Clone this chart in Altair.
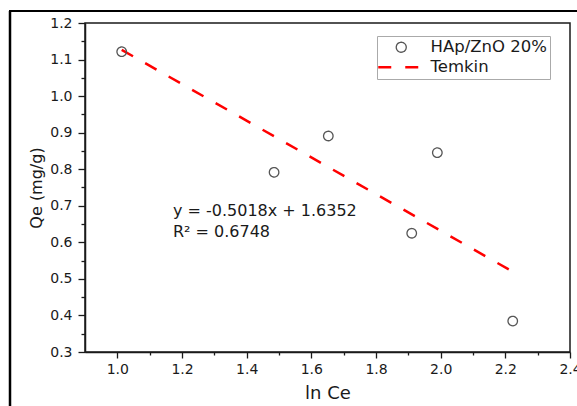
import altair as alt
import pandas as pd

# ---- data ----
ln_ce = [1.0135, 1.4848, 1.6525, 1.9105, 1.9897, 2.2229]
qe = [1.1215, 0.7916, 0.8909, 0.6248, 0.8453, 0.3847]
fit_x = [1.0135, 2.223]
fit_y = [1.1266, 0.5197]
series_names = ["HAp/ZnO 20%", "Temkin"]
x_major = [1.0, 1.2, 1.4, 1.6, 1.8, 2.0, 2.2, 2.4]
x_minor = [1.1, 1.3, 1.5, 1.7, 1.9, 2.1, 2.3]
y_major = [0.3, 0.4, 0.5, 0.6, 0.7, 0.8, 0.9, 1.0, 1.1, 1.2]
y_minor = [0.35, 0.45, 0.55, 0.65, 0.75, 0.85, 0.95, 1.05, 1.15]
eq_lines = ["y = -0.5018x + 1.6352", "R\u00b2 = 0.6748"]
eq_x = [1.172, 1.172]
eq_y = [0.673, 0.6155]

FONT = "DejaVu Sans"
INK = "#1a1a1a"

pts = pd.DataFrame({"lnCe": ln_ce, "Qe": qe, "series": series_names[0]})
fit = pd.DataFrame({"lnCe": fit_x, "Qe": fit_y, "series": series_names[1]})
eq = pd.DataFrame({"lnCe": eq_x, "Qe": eq_y, "label": eq_lines})
one = pd.DataFrame({"a": [0]})

xs = alt.Scale(domain=[0.9, 2.4], nice=False, zero=False)
ys = alt.Scale(domain=[0.3, 1.2], nice=False, zero=False)

color_enc = alt.Color("series:N", scale=alt.Scale(domain=series_names, range=["#555555", "#ff0000"]),
                      legend=alt.Legend(title=None, orient="none", legendX=292, legendY=13,
                                        strokeColor="#aaaaaa", padding=3, labelFont=FONT,
                                        labelFontSize=16.5, labelColor=INK, symbolSize=100,
                                        symbolOffset=13, labelOffset=21, rowPadding=3,
                                        fillColor="white"))
shape_enc = alt.Shape("series:N", scale=alt.Scale(domain=series_names, range=["circle", "M-4.6,0H4.6"]))
dash_enc = alt.StrokeDash("series:N", scale=alt.Scale(domain=series_names, range=[[1, 0], [13, 14]]))
sw_enc = alt.StrokeWidth("series:N", scale=alt.Scale(type="ordinal", domain=series_names, range=[1.3, 2.5]))

major_x_axis = alt.Axis(orient="bottom", values=x_major, format=".1f", tickSize=6, labelPadding=4,
                        grid=False, title="ln Ce", titleFontSize=18, titleFont=FONT,
                        titleFontWeight="normal", titleColor=INK, titlePadding=8, labelFont=FONT,
                        labelFontSize=14, labelColor=INK, domainColor=INK, tickColor=INK,
                        domainWidth=1.5, tickWidth=1.3, labelFlush=False, labelOverlap=False)
major_y_axis = alt.Axis(orient="left", values=y_major, format=".1f", tickSize=7, labelPadding=6,
                        grid=False, title="Qe (mg/g)", titleFontSize=16, titleFont=FONT,
                        titleFontWeight="normal", titleColor=INK, titlePadding=5, labelFont=FONT,
                        labelFontSize=14, labelColor=INK, domainColor=INK, tickColor=INK,
                        domainWidth=1.5, tickWidth=1.3, labelFlush=False, labelOverlap=False)
minor_x_axis = alt.Axis(orient="bottom", values=x_minor, labels=False, domain=False, grid=False,
                        title=None, tickSize=3, tickColor=INK, tickWidth=1.3)
minor_y_axis = alt.Axis(orient="left", values=y_minor, labels=False, domain=False, grid=False,
                        title=None, tickSize=4, tickColor=INK, tickWidth=1.3)

points = alt.Chart(pts).mark_point(filled=False, size=90, opacity=1).encode(
    x=alt.X("lnCe:Q", scale=xs, axis=major_x_axis),
    y=alt.Y("Qe:Q", scale=ys, axis=major_y_axis),
    color=color_enc, shape=shape_enc, strokeDash=dash_enc, strokeWidth=sw_enc,
)

line = alt.Chart(fit).mark_line().encode(
    x=alt.X("lnCe:Q", scale=xs, axis=minor_x_axis),
    y=alt.Y("Qe:Q", scale=ys, axis=minor_y_axis),
    color=color_enc, strokeDash=dash_enc, strokeWidth=sw_enc,
)

text = alt.Chart(eq).mark_text(align="left", baseline="alphabetic", font=FONT, fontSize=16,
                               color=INK).encode(
    x=alt.X("lnCe:Q", scale=xs, axis=None),
    y=alt.Y("Qe:Q", scale=ys, axis=None),
    text="label:N",
)

frame_left = alt.Chart(one).mark_rule(color="black", strokeWidth=2.5).encode(
    x=alt.value(-75), y=alt.value(-12), y2=alt.value(400))
frame_top = alt.Chart(one).mark_rule(color="black", strokeWidth=2).encode(
    x=alt.value(-76), x2=alt.value(500), y=alt.value(-12))

chart = alt.layer(line, points, text, frame_left, frame_top).resolve_axis(
    x="independent", y="independent"
).properties(
    width=485, height=329,
    autosize=alt.AutoSizeParams(type="none"),
    padding={"left": 85, "top": 23, "right": 7, "bottom": 54},
    background="white",
).configure(font=FONT).configure_view(stroke=INK, strokeWidth=1.5)

chart.save("out.html", embed_options={"renderer": "svg", "actions": False})
